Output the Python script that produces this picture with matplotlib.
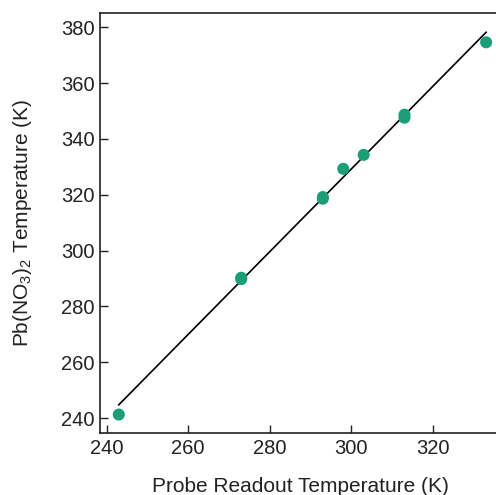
import matplotlib
matplotlib.use("Agg")
import matplotlib.pyplot as plt
import numpy as np

plt.rcParams['font.family'] = ['Liberation Sans', 'DejaVu Sans']
plt.rcParams['mathtext.fontset'] = 'custom'
plt.rcParams['mathtext.rm'] = 'Liberation Sans'
plt.rcParams['mathtext.it'] = 'Liberation Sans:italic'

# Data
probe_temp = [243, 273, 273, 293, 293, 298, 303, 313, 313, 333]
pbno3_temp = [241.3, 290.3, 289.8, 319.2, 318.6, 329.3, 334.3, 348.7, 347.6, 374.6]
fit_x = [243, 333]
fit_y = [244.8, 378.2]
xticks = [240, 260, 280, 300, 320]
yticks = [240, 260, 280, 300, 320, 340, 360, 380]

fig = plt.figure(figsize=(4.96, 4.95), dpi=100)
ax = fig.add_axes([100/496, 62/495, 400/496, (433-13)/495])

ax.plot(fit_x, fit_y, color='black', lw=1.2, zorder=2)
ax.scatter(probe_temp, pbno3_temp, s=75, color='#1b9e77', edgecolors='none', zorder=3)

ax.set_xlim(238.4, 336.4)
ax.set_ylim(234.7, 385.1)
ax.set_xticks(xticks)
ax.set_yticks(yticks)
ax.tick_params(direction='in', length=6, width=1, labelsize=14.5, pad=4, colors='#222222')
for s in ax.spines.values():
    s.set_linewidth(1.2)
    s.set_color('#222222')

ax.set_xlabel('Probe Readout Temperature (K)', fontsize=15, labelpad=14, color='#222222')
ax.set_ylabel('Pb(NO$_3$)$_2$ Temperature (K)', fontsize=15, labelpad=19, color='#222222')

fig.savefig('out.png', dpi=100)
